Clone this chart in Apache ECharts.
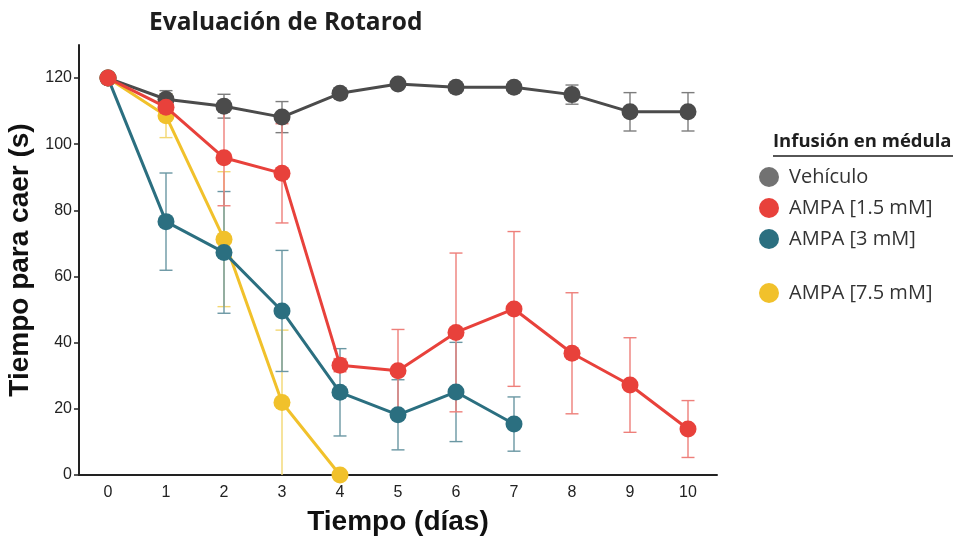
<!DOCTYPE html>
<html>
<head>
<meta charset="utf-8">
<script src="https://cdn.jsdelivr.net/npm/echarts@6/dist/echarts.min.js"></script>
<style>
  html, body { margin: 0; padding: 0; background: #fff; }
  #chart { width: 956px; height: 536px; }
</style>
</head>
<body>
<div id="chart"></div>
<script>
// Rotarod test: latency to fall (s) per day, mean ± error per group
const days = ['0', '1', '2', '3', '4', '5', '6', '7', '8', '9', '10'];
const yTicks = [0, 20, 40, 60, 80, 100, 120];

const groupNames = ['Vehículo', 'AMPA [1.5 mM]', 'AMPA [3 mM]', 'AMPA [7.5 mM]'];

const vehiculo    = [120, 113.6, 111.5, 108.2, 115.4, 118.2, 117.2, 117.2, 115.0, 109.8, 109.8];
const vehiculoErr = [0, 2.6, 3.6, 4.7, 1.5, 1.0, 1.0, 1.0, 2.9, 5.8, 5.8];

const ampa15    = [120, 111.2, 95.9, 91.2, 33.2, 31.5, 43.1, 50.2, 36.8, 27.2, 13.9];
const ampa15Err = [0, 2.0, 14.5, 15.0, 2.0, 12.5, 24.0, 23.4, 18.3, 14.3, 8.6];

const ampa3    = [120, 76.6, 67.3, 49.6, 25.0, 18.2, 25.1, 15.4, null, null, null];
const ampa3Err = [0, 14.7, 18.4, 18.3, 13.2, 10.6, 15.0, 8.2, null, null, null];

const ampa75    = [120, 108.6, 71.3, 21.9, 0, null, null, null, null, null, null];
const ampa75Err = [0, 6.6, 20.4, 21.9, 0, null, null, null, null, null, null];

const palette = {
  vehiculo: { line: '#4b4b4b', err: '#7d7d7d', legend: '#727272' },
  ampa15:   { line: '#e8413b', err: '#ee7f7a', legend: '#e8413b' },
  ampa3:    { line: '#2b6f80', err: '#6a97a3', legend: '#2b6f80' },
  ampa75:   { line: '#f1c12b', err: '#f3d772', legend: '#f1c12b' }
};

const tickFont = '"Liberation Sans", Arial, sans-serif';
const bodyFont = '"Open Sans", sans-serif';

function errorRows(means, errs) {
  const rows = [];
  means.forEach(function (m, i) {
    const e = errs[i];
    if (m == null || !e) return;
    rows.push([i, Math.max(0, m - e), m + e]);
  });
  return rows;
}

function errorSeries(name, means, errs, color) {
  return {
    type: 'custom',
    name: name + ' error',
    z: 1,
    clip: false,
    data: errorRows(means, errs),
    encode: { x: 0, y: [1, 2] },
    renderItem: function (params, api) {
      const x = api.value(0);
      const lo = api.coord([x, api.value(1)]);
      const hi = api.coord([x, api.value(2)]);
      const half = 6.5;
      const style = { stroke: color, lineWidth: 1.4, fill: null };
      const children = [
        { type: 'line', shape: { x1: hi[0], y1: hi[1], x2: lo[0], y2: lo[1] }, style: style },
        { type: 'line', shape: { x1: hi[0] - half, y1: hi[1], x2: hi[0] + half, y2: hi[1] }, style: style }
      ];
      if (api.value(1) > 0) {
        children.push({ type: 'line', shape: { x1: lo[0] - half, y1: lo[1], x2: lo[0] + half, y2: lo[1] }, style: style });
      }
      return { type: 'group', children: children };
    }
  };
}

function lineSeries(name, data, color, z) {
  return {
    type: 'line',
    name: name,
    data: data,
    z: z,
    clip: false,
    symbol: 'circle',
    symbolSize: 17,
    connectNulls: false,
    itemStyle: { color: color },
    lineStyle: { color: color, width: 3 },
    emphasis: { disabled: true }
  };
}

const legendText = { fontFamily: bodyFont, fontSize: 20, color: '#333' };

const option = {
  animation: false,
  backgroundColor: '#fff',
  title: {
    text: 'Evaluación de Rotarod',
    left: 144,
    top: 6,
    textStyle: { fontFamily: bodyFont, fontWeight: 'bold', fontSize: 24.5, color: '#1e1e1e' }
  },
  grid: { left: 79, right: 239, top: 45, bottom: 61, containLabel: false, outerBoundsMode: 'none' },
  legend: [
    {
      data: [
        { name: groupNames[0], itemStyle: { color: palette.vehiculo.legend } },
        { name: groupNames[1], itemStyle: { color: palette.ampa15.legend } },
        { name: groupNames[2], itemStyle: { color: palette.ampa3.legend } }
      ],
      orient: 'vertical',
      left: 754,
      top: 162,
      icon: 'circle',
      itemWidth: 30,
      itemHeight: 20,
      itemGap: 11,
      selectedMode: false,
      textStyle: legendText
    },
    {
      data: [{ name: groupNames[3], itemStyle: { color: palette.ampa75.legend } }],
      orient: 'vertical',
      left: 754,
      top: 278,
      icon: 'circle',
      itemWidth: 30,
      itemHeight: 20,
      selectedMode: false,
      textStyle: legendText
    }
  ],
  graphic: [
    {
      type: 'text',
      left: 773,
      top: 132,
      style: { text: 'Infusión en médula', font: 'bold 18.5px "Open Sans", sans-serif', fill: '#1e1e1e' }
    },
    {
      type: 'line',
      shape: { x1: 773, y1: 156, x2: 953, y2: 156 },
      style: { stroke: '#1e1e1e', lineWidth: 1.5 }
    }
  ],
  xAxis: {
    type: 'category',
    data: days,
    boundaryGap: true,
    name: 'Tiempo (días)',
    nameLocation: 'middle',
    nameGap: 33,
    nameTextStyle: { fontFamily: tickFont, fontWeight: 'bold', fontSize: 28, color: '#111' },
    axisLine: { lineStyle: { color: '#222', width: 2 } },
    axisTick: { alignWithLabel: true, length: 5, lineStyle: { color: '#222', width: 1.5 } },
    axisLabel: { margin: 10, fontFamily: tickFont, fontSize: 16, color: '#222' },
    splitLine: { show: false }
  },
  yAxis: {
    type: 'value',
    min: 0,
    max: 130,
    interval: 10,
    name: 'Tiempo para caer (s)',
    nameLocation: 'middle',
    nameGap: 38,
    nameTextStyle: { fontFamily: tickFont, fontWeight: 'bold', fontSize: 28, color: '#111' },
    axisLine: { show: true, lineStyle: { color: '#222', width: 2 } },
    axisTick: { show: true, length: 5, customValues: yTicks, lineStyle: { color: '#222', width: 1.5 } },
    axisLabel: { margin: 7, customValues: yTicks, fontFamily: tickFont, fontSize: 16, color: '#222' },
    splitLine: { show: false }
  },
  series: [
    errorSeries(groupNames[0], vehiculo, vehiculoErr, palette.vehiculo.err),
    errorSeries(groupNames[3], ampa75, ampa75Err, palette.ampa75.err),
    errorSeries(groupNames[2], ampa3, ampa3Err, palette.ampa3.err),
    errorSeries(groupNames[1], ampa15, ampa15Err, palette.ampa15.err),
    lineSeries(groupNames[0], vehiculo, palette.vehiculo.line, 2),
    lineSeries(groupNames[3], ampa75, palette.ampa75.line, 3),
    lineSeries(groupNames[2], ampa3, palette.ampa3.line, 4),
    lineSeries(groupNames[1], ampa15, palette.ampa15.line, 5)
  ]
};

const chart = echarts.init(document.getElementById('chart'), null, { renderer: 'canvas' });
chart.setOption(option);
</script>
</body>
</html>
